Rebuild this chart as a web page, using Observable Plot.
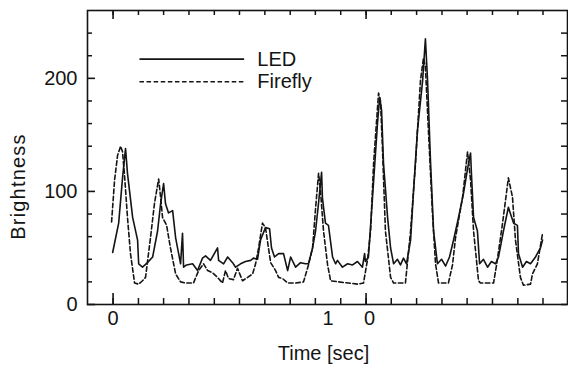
<!DOCTYPE html>
<html><head><meta charset="utf-8">
<script src="https://cdn.jsdelivr.net/npm/d3@7"></script>
<script src="https://cdn.jsdelivr.net/npm/@observablehq/plot@0.6"></script>
<style>html,body{margin:0;padding:0;background:#fff;} #chart{width:568px;height:365px;overflow:hidden;}</style>
</head><body><div id="chart"></div>
<script>
// Time in seconds, brightness in arbitrary units
const ledTime = [-0.002,0.026,0.044,0.058,0.067,0.091,0.114,0.119,0.137,0.160,0.184,0.207,0.221,0.235,0.244,0.258,0.277,0.291,0.314,0.323,0.328,0.342,0.370,0.393,0.416,0.430,0.453,0.486,0.491,0.514,0.533,0.556,0.570,0.593,0.616,0.640,0.653,0.672,0.686,0.709,0.728,0.737,0.751,0.770,0.793,0.812,0.826,0.849,0.872,0.895,0.909,0.928,0.942,0.956,0.970,0.974,0.988,1.002,1.021,1.035,1.044,1.067,1.091,1.114,1.137,1.160,1.170,1.174,1.188,1.207,1.230,1.240,1.249,1.258,1.277,1.291,1.305,1.323,1.337,1.351,1.365,1.384,1.398,1.416,1.440,1.453,1.463,1.477,1.491,1.509,1.528,1.547,1.565,1.584,1.607,1.630,1.649,1.663,1.667,1.677,1.695,1.705,1.723,1.742,1.760,1.779,1.793,1.816,1.839,1.849,1.863,1.881,1.886,1.905,1.923,1.942,1.965,1.988,1.998];
const ledBrightness = [46,72,112,138,116,77,57,36,33,37,42,65,89,107,89,81,83,59,36,63,33,35,36,30,41,43,39,50,39,36,42,37,33,36,38,39,41,40,57,68,67,50,42,45,45,30,42,33,37,36,36,50,65,90,117,94,72,70,42,36,39,33,36,35,38,33,45,38,42,95,160,183,172,125,77,50,36,40,35,41,36,57,101,154,198,235,198,125,65,36,40,34,42,57,77,98,120,134,116,77,65,36,40,33,38,36,42,65,86,80,72,70,45,33,38,36,42,50,57];

const fireflyTime = [-0.007,0.007,0.021,0.035,0.044,0.053,0.067,0.081,0.100,0.119,0.137,0.151,0.174,0.193,0.212,0.221,0.230,0.249,0.267,0.291,0.314,0.337,0.374,0.398,0.421,0.440,0.463,0.486,0.509,0.523,0.537,0.560,0.579,0.602,0.626,0.649,0.663,0.677,0.695,0.709,0.733,0.756,0.770,0.788,0.812,0.849,0.886,0.909,0.928,0.942,0.956,0.965,0.979,0.998,1.012,1.049,1.095,1.137,1.165,1.184,1.198,1.212,1.235,1.244,1.253,1.267,1.291,1.305,1.360,1.384,1.407,1.430,1.444,1.453,1.467,1.486,1.500,1.514,1.560,1.579,1.593,1.626,1.649,1.663,1.677,1.700,1.709,1.770,1.784,1.812,1.839,1.858,1.872,1.895,1.909,1.942,1.951,1.974,1.998];
const fireflyBrightness = [73,110,132,140,135,115,77,45,19,18,21,24,59,90,111,95,77,70,50,27,20,19,19,30,36,30,28,24,19,30,23,22,32,21,24,27,36,50,72,68,37,30,24,23,19,19,20,35,50,85,116,100,65,35,21,20,19,18,19,40,65,125,187,180,139,65,24,19,19,65,125,198,218,210,154,80,36,19,19,35,59,95,135,110,65,21,19,19,35,72,112,95,57,24,17,18,27,36,63];

// Axis ticks and labels
const xDomain = [-0.119, 2.114];
const yDomain = [0, 260];
const xMinorTicks = [0,0.118,0.235,0.353,0.471,0.588,0.706,0.824,0.941,1.059,1.177,1.294,1.412,1.530,1.647,1.765,1.883,2.000];
const xMajorTicks = [0,1.177];
const xLabelTimes = [0,1.0,1.193];
const xLabelTexts = ["0","1","0"];
const yMinorTicks = [20,40,60,80,120,140,160,180,220,240];
const yMajorTicks = [0,100,200];

// Legend
const legendNames = ["LED","Firefly"];
const legendBrightness = [217,197];
const legendStart = 0.125, legendEnd = 0.612, legendTextTime = 0.671;

const led = ledTime.map((t,i)=>({t, b: ledBrightness[i]}));
const firefly = fireflyTime.map((t,i)=>({t, b: fireflyBrightness[i]}));
const legend = legendNames.map((n,i)=>({name:n, b: legendBrightness[i]}));
const xLabelMap = new Map(xLabelTimes.map((t,i)=>[t, xLabelTexts[i]]));

const ink = "#141414";
const font = "Liberation Sans, Arial, Helvetica, sans-serif";
const dash = "4.5,2.6";
const W = 568, H = 365, mL = 87, mR = 1, mT = 10, mB = 61;
const fw = W - mL - mR, fh = H - mT - mB;
// data units per pixel, to express tick lengths (in px) in scale units
const xPerPx = (xDomain[1] - xDomain[0]) / fw;
const yPerPx = (yDomain[1] - yDomain[0]) / fh;
const xAt = px => xDomain[0] + (px - mL) * xPerPx;     // screen px -> time
const yAt = px => yDomain[0] + (H - mB - px) * yPerPx; // screen px -> brightness

const chart = Plot.plot({
  width: W, height: H,
  marginLeft: mL, marginRight: mR, marginTop: mT, marginBottom: mB,
  x: {domain: xDomain},
  y: {domain: yDomain},
  style: {fontFamily: font, fontSize: "20px", color: ink, background: "#fff"},
  marks: [
    // inward ticks
    Plot.ruleX(xMinorTicks, {x: d => d, y1: yDomain[0], y2: yDomain[0] + 6 * yPerPx, stroke: ink, strokeWidth: 1.5}),
    Plot.ruleX(xMajorTicks, {x: d => d, y1: yDomain[0], y2: yDomain[0] + 11 * yPerPx, stroke: ink, strokeWidth: 1.6}),
    Plot.ruleX(xMinorTicks, {x: d => d, y1: yDomain[1], y2: yDomain[1] - 5 * yPerPx, stroke: ink, strokeWidth: 1.5}),
    Plot.ruleX(xMajorTicks, {x: d => d, y1: yDomain[1], y2: yDomain[1] - 9 * yPerPx, stroke: ink, strokeWidth: 1.6}),
    Plot.ruleY(yMinorTicks, {y: d => d, x1: xDomain[0], x2: xDomain[0] + 5 * xPerPx, stroke: ink, strokeWidth: 1.5}),
    Plot.ruleY(yMajorTicks, {y: d => d, x1: xDomain[0], x2: xDomain[0] + 8 * xPerPx, stroke: ink, strokeWidth: 1.6}),
    Plot.ruleY(yMinorTicks.concat(yMajorTicks), {y: d => d, x1: xDomain[1] - 6 * xPerPx, x2: xDomain[1], stroke: ink, strokeWidth: 1.5}),
    // tick labels
    Plot.axisX(xLabelTimes, {anchor: "bottom", tickSize: 0, tickPadding: 6, fontSize: 20, tickFormat: d => xLabelMap.get(d), label: null}),
    Plot.axisY(yMajorTicks, {anchor: "left", tickSize: 0, tickPadding: 10, fontSize: 20, label: null}),
    Plot.frame({stroke: ink, strokeWidth: 1.6}),
    // data
    Plot.line(firefly, {x: "t", y: "b", stroke: ink, strokeWidth: 1.6, strokeDasharray: dash}),
    Plot.line(led, {x: "t", y: "b", stroke: ink, strokeWidth: 1.6}),
    // legend
    Plot.ruleY(legend.slice(0, 1), {y: "b", x1: legendStart, x2: legendEnd, stroke: ink, strokeWidth: 1.6}),
    Plot.ruleY(legend.slice(1, 2), {y: "b", x1: legendStart, x2: legendEnd, stroke: ink, strokeWidth: 1.6, strokeDasharray: dash}),
    Plot.text(legend, {y: "b", x: legendTextTime, text: "name", textAnchor: "start", lineAnchor: "middle", fontSize: 20, fill: ink}),
    // axis titles
    Plot.text(["Brightness"], {x: xAt(18.5), y: yAt(186), rotate: -90, fontSize: 20, fill: ink, lineAnchor: "middle"}),
    Plot.text(["Time [sec]"], {x: xAt(323), y: yAt(353), fontSize: 20, fill: ink, lineAnchor: "middle"})
  ]
});
document.getElementById("chart").appendChild(chart);
// slightly wider letter spacing on the rotated title, as in the scan
for (const t of chart.querySelectorAll("text")) {
  if (t.textContent === "Brightness") t.setAttribute("letter-spacing", "1.2");
}
</script>
</body></html>
